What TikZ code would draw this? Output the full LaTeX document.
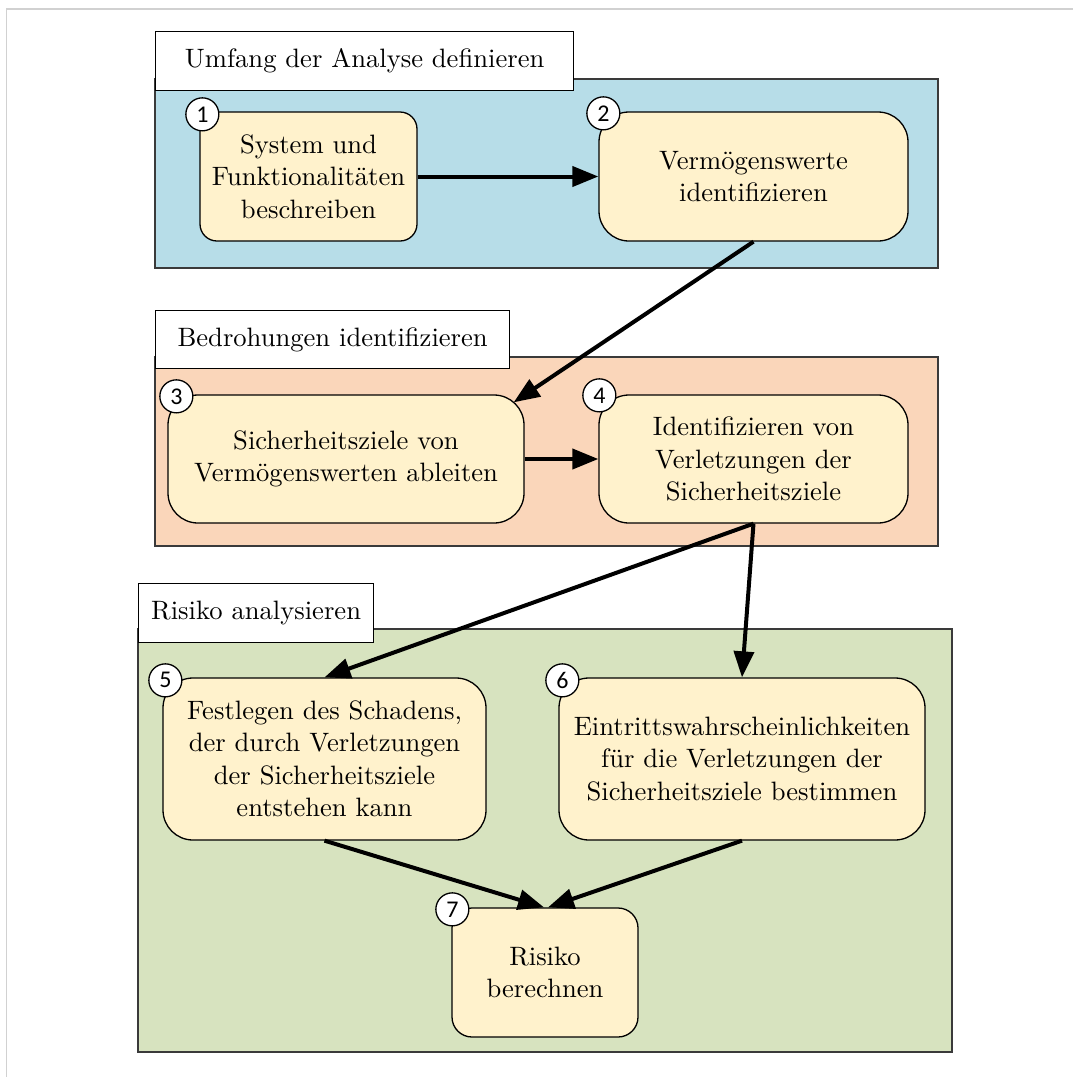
\documentclass[tikz,border=0pt]{standalone}
\usepackage{fontspec}
\newfontfamily\numfont{Carlito}
% Latin Modern Roman at its 10pt design size, used at every size
\DeclareFontFamily{TU}{lmrten}{}
\DeclareFontShape{TU}{lmrten}{m}{n}{<-> \UnicodeFontFile{lmroman10-regular}{\UnicodeFontTeXLigatures}}{}
\usetikzlibrary{arrows.meta,calc}
\definecolor{groupblue}{HTML}{B7DDE8}
\definecolor{grouppeach}{HTML}{FAD6BA}
\definecolor{groupgreen}{HTML}{D7E3BF}
\definecolor{stepfill}{HTML}{FFF2CC}
\definecolor{groupline}{HTML}{3A3A3A}
\newcommand\labelfont{\fontfamily{lmrten}\fontsize{26.6}{32.5}\selectfont}
\begin{document}
\begin{tikzpicture}[x=1pt,y=-1pt,
  stepbox/.style={draw=black,line width=1.3pt,fill=stepfill,rounded corners=#1,
    inner sep=0pt,align=center,font=\labelfont},
  stepbox/.default=16pt,
  group/.style={draw=groupline,line width=1.6pt},
  titlebox/.style={draw=black,line width=1.3pt,fill=white,inner sep=0pt,
    anchor=north west,font=\labelfont},
  numcircle/.style={circle,draw=black,line width=1.3pt,fill=white,minimum size=33pt,
    inner sep=0pt,font=\numfont\fontsize{24}{24}\selectfont},
  conn/.style={line width=4pt,-{Triangle[length=26pt,width=20pt]}}]
\useasboundingbox (0,0) rectangle (1073,1077);
% outer frame
\draw[black!18,line width=1.5pt] (6.5,1077) -- (6.5,9) -- (1073,9);

% group areas
\filldraw[group,fill=groupblue] (155,79) rectangle (938,268);
\filldraw[group,fill=grouppeach] (155,357) rectangle (938,546);
\filldraw[group,fill=groupgreen] (138,629) rectangle (952,1052);

% group titles
\node[titlebox,minimum width=418pt,minimum height=59pt] (t1) at (155,31) {Umfang der Analyse definieren};
\node[titlebox,minimum width=354pt,minimum height=58pt] (t2) at (155,310) {Bedrohungen identifizieren};
\node[titlebox,minimum width=235pt,minimum height=59pt] (t3) at (138,583) {Risiko analysieren};

% process steps
\node[stepbox=17pt,minimum width=217pt,minimum height=129pt] (n1) at (308.5,176.5)
  {System und\\Funktionalitäten\\beschreiben};
\node[stepbox=30pt,minimum width=309pt,minimum height=129pt] (n2) at (753.5,176.5)
  {Vermögenswerte\\identifizieren};
\node[stepbox=30pt,minimum width=356pt,minimum height=128pt] (n3) at (346,459)
  {Sicherheitsziele von\\Vermögenswerten ableiten};
\node[stepbox=30pt,minimum width=309pt,minimum height=128pt] (n4) at (753.5,459)
  {Identifizieren von\\Verletzungen der\\Sicherheitsziele};
\node[stepbox=30pt,minimum width=323pt,minimum height=162pt] (n5) at (324.5,759)
  {Festlegen des Schadens,\\der durch Verletzungen\\der Sicherheitsziele\\entstehen kann};
\node[stepbox=30pt,minimum width=366pt,minimum height=162pt] (n6) at (742,759)
  {Eintrittswahrscheinlichkeiten\\für die Verletzungen der\\Sicherheitsziele bestimmen};
\node[stepbox=20pt,minimum width=186pt,minimum height=129pt] (n7) at (545,972.5)
  {Risiko\\berechnen};

% connectors
\draw[conn] (n1.east) -- (n2.west);
\draw[conn] (n2.south) -- ($(n3.north east)+(-11,8)$);
\draw[conn] (n3.east) -- (n4.west);
\draw[conn] (n4.south) -- (n5.north);
\draw[conn] (n4.south) -- (n6.north);
\draw[conn] (n5.south) -- ($(n7.north)+(-1,0)$);
\draw[conn] (n6.south) -- ($(n7.north)+(3,0)$);

% step numbers
\node[numcircle] (c1) at ($(n1.north west)+(3,3)$) {1};
\node[numcircle] (c2) at ($(n2.north west)+(5,2)$) {2};
\node[numcircle] (c3) at ($(n3.north west)+(9,2)$) {3};
\node[numcircle] (c4) at ($(n4.north west)+(1,1)$) {4};
\node[numcircle] (c5) at ($(n5.north west)+(3,3)$) {5};
\node[numcircle] (c6) at ($(n6.north west)+(4,3)$) {6};
\node[numcircle] (c7) at ($(n7.north west)+(1,2)$) {7};
\end{tikzpicture}
\end{document}
